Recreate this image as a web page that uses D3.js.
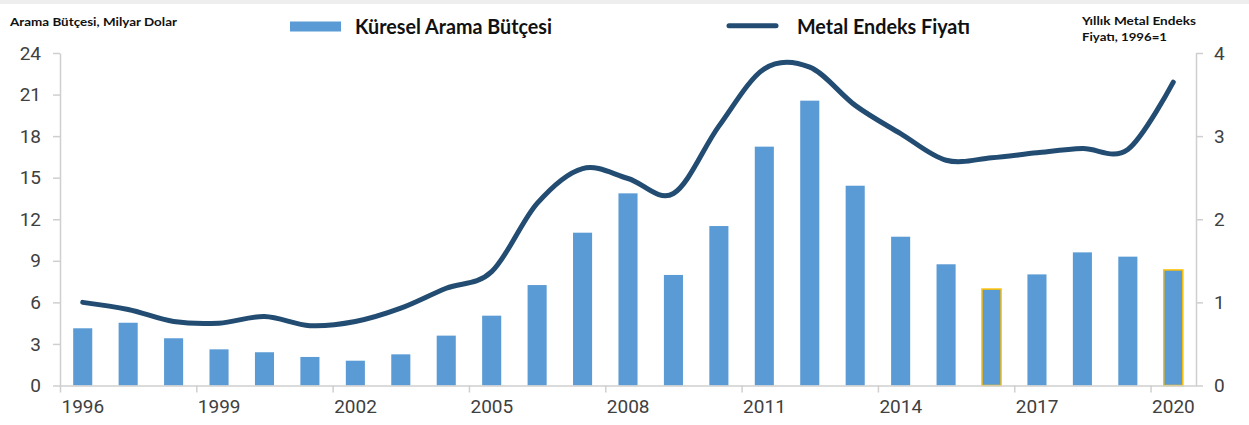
<!DOCTYPE html>
<html>
<head>
<meta charset="utf-8">
<style>
body { margin: 0; background: #fff; }
.axis text { font-family: Roboto, sans-serif; font-size: 19px; fill: #404040; }
.axis line, .axis path { stroke: #cfcfcf; stroke-width: 1.5; }
.title { font-family: Lato, sans-serif; font-weight: 700; fill: #111; }
</style>
</head>
<body>
<div id="chart"></div>
<script src="https://cdn.jsdelivr.net/npm/d3@7"></script>
<script>

const years = [1996, 1997, 1998, 1999, 2000, 2001, 2002, 2003, 2004, 2005, 2006, 2007, 2008,
               2009, 2010, 2011, 2012, 2013, 2014, 2015, 2016, 2017, 2018, 2019, 2020];

// Küresel Arama Bütçesi, milyar dolar
const budget = [4.13, 4.53, 3.41, 2.61, 2.40, 2.06, 1.79, 2.25, 3.60, 5.04, 7.25, 11.03, 13.87,
                7.98, 11.51, 17.24, 20.56, 14.42, 10.74, 8.75, 6.96, 8.02, 9.61, 9.30, 8.34];

// Metal Endeks Fiyatı, 1996=1
const metal = [1.00, 0.915, 0.77, 0.75, 0.83, 0.72, 0.77, 0.93, 1.17, 1.37, 2.19, 2.61, 2.49,
               2.31, 3.12, 3.81, 3.83, 3.37, 3.03, 2.71, 2.74, 2.80, 2.85, 2.84, 3.65];

const highlighted = [2016, 2020];

const leftTicks = [0, 3, 6, 9, 12, 15, 18, 21, 24];
const rightTicks = [0, 1, 2, 3, 4];
const xTicks = [1996, 1999, 2002, 2005, 2008, 2011, 2014, 2017, 2020];

const width = 1249, height = 425;
const plot = {left: 60, right: 1196, top: 53, bottom: 385.5};

const svg = d3.select('#chart')
    .append('svg')
        .attr('width', width)
        .attr('height', height);

// thin grey strip along the top edge
svg.append('rect')
    .attr('x', 0).attr('y', 0)
    .attr('width', width).attr('height', 4)
    .attr('fill', '#eeeeee');

const x = d3.scaleBand()
    .domain(years)
    .range([plot.left, plot.right])
    .paddingInner(0.58)
    .paddingOuter(0.29);

const xYear = d3.scaleLinear()
    .domain([1996, 2021])
    .range([plot.left, plot.right]);

const yLeft = d3.scaleLinear()
    .domain([0, 24])
    .range([plot.bottom, plot.top]);

const yRight = d3.scaleLinear()
    .domain([0, 4])
    .range([plot.bottom, plot.top]);

// bars
svg.append('g')
    .selectAll('rect')
    .data(years)
    .join('rect')
        .attr('x', d => x(d))
        .attr('y', (d, i) => yLeft(budget[i]))
        .attr('width', x.bandwidth())
        .attr('height', (d, i) => yLeft(0) - yLeft(budget[i]))
        .attr('fill', '#5b9bd5')
        .attr('stroke', d => highlighted.includes(d) ? '#ffc000' : 'none')
        .attr('stroke-width', 1.5);

// axes
svg.append('g')
    .attr('class', 'axis')
    .attr('transform', 'translate(' + plot.left + ',0)')
    .call(d3.axisLeft(yLeft).tickValues(leftTicks).tickSize(7).tickSizeOuter(0).tickPadding(12));

svg.append('g')
    .attr('class', 'axis')
    .attr('transform', 'translate(' + plot.right + ',0)')
    .call(d3.axisRight(yRight).tickValues(rightTicks).tickSize(7).tickSizeOuter(0).tickPadding(11)
            .tickFormat(d3.format('d')));

const gx = svg.append('g')
    .attr('class', 'axis')
    .attr('transform', 'translate(0,' + plot.bottom + ')')
    .call(d3.axisBottom(xYear).tickValues(xTicks).tickSize(7).tickSizeOuter(0).tickFormat(d3.format('d')));

gx.selectAll('.tick text')
    .attr('text-anchor', 'start')
    .attr('x', 1)
    .attr('y', 27.5)
    .attr('dy', 0);

// metal index line
const line = d3.line()
    .x((d, i) => x(years[i]) + x.bandwidth() / 2)
    .y(d => yRight(d))
    .curve(d3.curveCatmullRom.alpha(0));

svg.append('path')
    .datum(metal)
    .attr('d', line)
    .attr('fill', 'none')
    .attr('stroke', '#224c71')
    .attr('stroke-width', 5)
    .attr('stroke-linecap', 'round')
    .attr('stroke-linejoin', 'round');

// axis titles
svg.append('text')
    .attr('class', 'title')
    .attr('x', 10).attr('y', 26)
    .attr('font-size', 12)
    .attr('textLength', 167)
    .attr('lengthAdjust', 'spacingAndGlyphs')
    .text('Arama Bütçesi, Milyar Dolar');

svg.append('text')
    .attr('class', 'title')
    .attr('x', 1082).attr('y', 25)
    .attr('font-size', 12)
    .attr('textLength', 114)
    .attr('lengthAdjust', 'spacingAndGlyphs')
    .text('Yıllık Metal Endeks');

svg.append('text')
    .attr('class', 'title')
    .attr('x', 1082).attr('y', 41)
    .attr('font-size', 12)
    .attr('textLength', 85)
    .attr('lengthAdjust', 'spacingAndGlyphs')
    .text('Fiyatı, 1996=1');

// legend
const legend = svg.append('g');

legend.append('rect')
    .attr('x', 290).attr('y', 21.5)
    .attr('width', 51).attr('height', 10)
    .attr('fill', '#5b9bd5');

legend.append('text')
    .attr('class', 'title')
    .attr('x', 355).attr('y', 33.5)
    .attr('font-size', 20)
    .attr('textLength', 197)
    .attr('lengthAdjust', 'spacingAndGlyphs')
    .text('Küresel Arama Bütçesi');

legend.append('line')
    .attr('x1', 729).attr('x2', 776)
    .attr('y1', 25.7).attr('y2', 25.7)
    .attr('stroke', '#224c71')
    .attr('stroke-width', 5)
    .attr('stroke-linecap', 'round');

legend.append('text')
    .attr('class', 'title')
    .attr('x', 797).attr('y', 34)
    .attr('font-size', 20)
    .attr('textLength', 173)
    .attr('lengthAdjust', 'spacingAndGlyphs')
    .text('Metal Endeks Fiyatı');

</script>
</body>
</html>
